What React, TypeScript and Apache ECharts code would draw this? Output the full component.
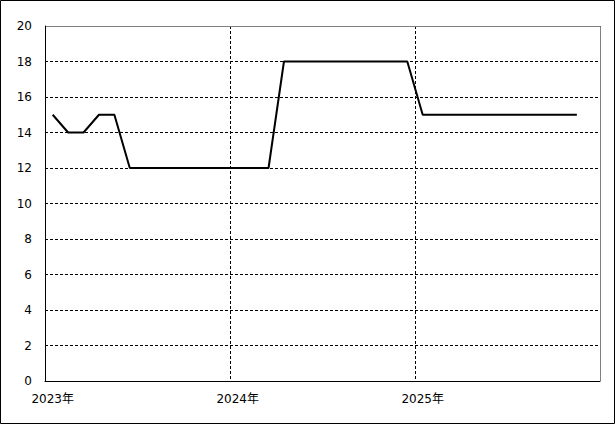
import React, { useEffect, useRef } from "react";
import * as echarts from "echarts";

const years = [2023, 2024, 2025];
const yearLabels = ["2023年", "2024年", "2025年"];
const months = years.flatMap((y) =>
  Array.from({ length: 12 }, (_, m) => `${y}-${String(m + 1).padStart(2, "0")}`)
);
// monthly values Jan 2023 .. Nov 2025
const values = [
  15, 14, 14, 15, 15,
  12, 12, 12, 12, 12, 12, 12, 12, 12, 12,
  18, 18, 18, 18, 18, 18, 18, 18, 18,
  15, 15, 15, 15, 15, 15, 15, 15, 15, 15, 15,
];
const yMin = 0;
const yMax = 20;
const yStep = 2;

const FONT = "'DejaVu Sans', 'Noto Sans CJK JP', sans-serif";

export default function App() {
  const ref = useRef<HTMLDivElement>(null);
  useEffect(() => {
    if (!ref.current) return;
    const chart = echarts.init(ref.current, undefined, { renderer: "svg" });
    const L = 45, T = 26, R = 600, B = 381;
    chart.setOption({
      animation: false,
      backgroundColor: "#ffffff",
      grid: { left: L, top: T, width: R - L, height: B - T, show: false },
      xAxis: {
        type: "category",
        data: months,
        boundaryGap: true,
        axisLine: { show: true, lineStyle: { color: "#000", width: 1 } },
        axisTick: { show: false },
        axisLabel: {
          interval: (i: number) => i % 12 === 0,
          formatter: (_v: string, i: number) => (i % 12 === 0 ? yearLabels[i / 12] : ""),
          color: "#000",
          fontSize: 12,
          fontFamily: FONT,
          margin: 12,
        },
        splitLine: {
          show: true,
          interval: (i: number) => i % 12 === 0,
          lineStyle: { color: "#000", type: [3, 2], width: 1 },
        },
      },
      yAxis: {
        type: "value",
        min: yMin,
        max: yMax,
        interval: yStep,
        axisLine: { show: true, lineStyle: { color: "#000", width: 1 } },
        axisTick: { show: false },
        axisLabel: { color: "#000", fontSize: 12, fontFamily: FONT, margin: 13 },
        splitLine: { show: true, lineStyle: { color: "#000", type: [3, 2], width: 1 } },
      },
      series: [
        {
          type: "line",
          data: values,
          showSymbol: false,
          symbol: "none",
          lineStyle: { color: "#000", width: 2 },
          z: 5,
        },
      ],
      graphic: [
        {
          type: "polyline",
          z: 100,
          shape: { points: [[L + 1, T + 0.5], [R + 0.5, T + 0.5], [R + 0.5, B]] },
          style: { stroke: "#808080", lineWidth: 1, fill: "none" },
        },
        {
          type: "rect",
          z: 100,
          shape: { x: 0.5, y: 0.5, width: 614, height: 423 },
          style: { stroke: "#000", lineWidth: 1, fill: "none" },
        },
      ],
    });
    return () => chart.dispose();
  }, []);
  return (
    <div
      ref={ref}
      style={{ position: "fixed", left: 0, top: 0, width: 615, height: 424, background: "#fff" }}
    />
  );
}
